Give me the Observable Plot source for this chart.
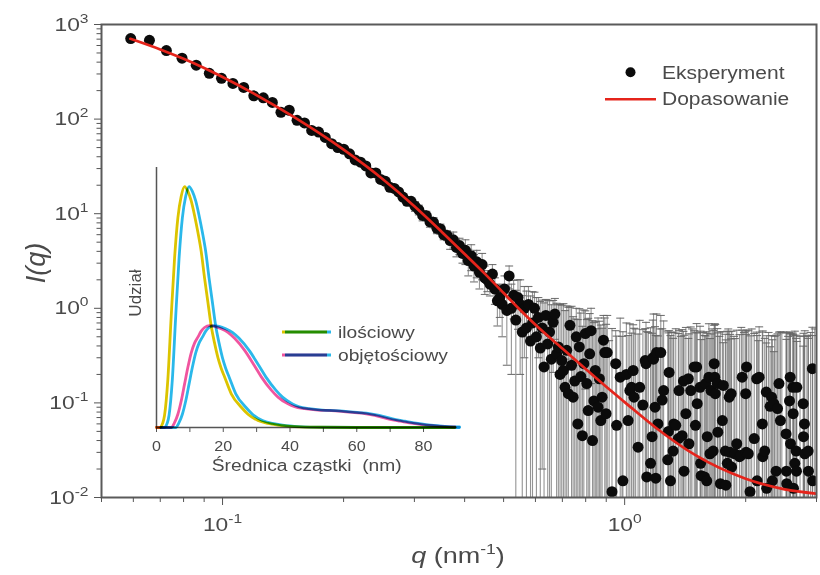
<!DOCTYPE html>
<html><head><meta charset="utf-8">
<script src="https://cdn.jsdelivr.net/npm/d3@7"></script>
<script src="https://cdn.jsdelivr.net/npm/@observablehq/plot@0.6"></script>
<style>
html,body{margin:0;padding:0;background:#fff;}
#wrap{position:relative;width:820px;height:575px;overflow:hidden;}
#wrap svg{position:absolute;left:0;top:0;}
</style></head><body><div id="wrap"></div>
<script>
// ---------------- DATA ----------------
// Main SAXS curve: q (nm^-1), I(q), error (absolute)
const qLow = [0.0591,0.0658,0.0725,0.0793,0.0860,0.0927,0.0994,0.1061,0.1129,0.1196,
0.1263,0.1330,0.1397,0.1465,0.1532,0.1599,0.1666,0.1733,0.1801,0.1868,
0.1935,0.2002,0.2069,0.2137,0.2204,0.2271,0.2338,0.2405,0.2473,0.2540,
0.2607,0.2674,0.2741,0.2809,0.2876,0.2943,0.3010,0.3077,0.3145,0.3212,
0.3279,0.3346,0.3413,0.3481,0.3548,0.3615,0.3682,0.3749,0.3817,0.3884,
0.3951,0.4018,0.4085,0.4153,0.4220,0.4287,0.4354,0.4421,0.4489];
const iLow = [710,680,530,440,372,305,270,238,216,176,
168,150,118,124,97,91,76,73,64,55,
50,48,43,37,35,32,27,27,23,22,
19,18.5,17,15,13.5,13.5,12,11,9.6,9.5,
8.2,8.1,7.0,6.9,6.0,5.9,5.2,5.3,4.4,4.6,
3.8,4.1,3.2,3.6,2.8,3.1,2.4,2.9,2.1];
const eLow = [28,27,21,18,15,12,11,10,9,7,
7,6,5,5,4,4,3,3,2.6,2.2,
2,3,2.6,2.2,2.1,1.9,1.6,1.6,1.4,1.3,
1.2,1.1,1.0,0.9,0.8,0.8,1.4,1.3,1.2,1.1,
1.0,1.0,0.85,0.85,0.7,0.7,1.0,1.1,0.9,0.9,
0.8,1.2,1.0,1.1,0.9,1.0,0.8,0.9,0.7];

const qMid = [0.4556,0.4623,0.4690,0.4757,0.4825,0.4892,0.4959,0.5026,0.5093,0.5161,
0.5228,0.5295,0.5362,0.5429,0.5497,0.5564,0.5631,0.5698,0.5765,0.5833,
0.5900,0.5967,0.6034,0.6101,0.6169,0.6236,0.6303,0.6370,0.6437,0.6505,
0.6572,0.6639,0.6706,0.6773,0.6841,0.6908,0.6975,0.7042,0.7109,0.7177,
0.7244,0.7311,0.7378,0.7445,0.7513,0.7580,0.7647,0.7714,0.7781,0.7849,
0.7916,0.7983,0.8050,0.8117,0.8185,0.8252,0.8319,0.8386,0.8453,0.8521,
0.8588,0.8655,0.8722,0.8789,0.8857,0.8924,0.8991];
const iMid = [2.0,1.8,2.3,1.6,1.2,1.3,1.1,1.6,0.95,2.2,
1.0,1.37,0.75,1.3,1.1,0.56,1.0,0.62,1.1,0.45,
0.7,1.0,0.5,0.8,0.38,0.62,0.24,0.84,0.42,0.56,
0.29,0.71,0.87,0.33,0.39,0.2,0.28,0.22,0.146,0.36,
0.125,0.66,0.25,0.115,0.17,0.5,0.06,0.39,0.19,0.045,
0.26,0.54,0.16,0.083,0.33,0.58,0.04,0.105,0.22,0.0075,
0.09,0.18,0.065,0.115,0.46,0.34,0.077];
const eMid = [0.5,0.45,0.6,0.5,0.55,0.5,0.6,0.6,0.7,0.6,
0.8,0.6,0.8,0.7,0.9,0.8,0.7,0.9,0.6,0.9,
0.8,0.48,0.8,0.5,0.8,0.6,0.9,0.4,0.8,0.64,
0.8,0.5,0.4,0.8,0.7,0.9,0.8,0.9,0.8,0.7,
0.9,0.37,0.8,0.7,0.6,0.5,0.7,0.6,0.7,0.6,
0.7,0.4,0.6,0.7,0.55,0.42,0.7,0.6,0.5,0.6,
0.7,0.55,0.6,0.5,0.38,0.45,0.6];

const qHigh = [0.905,0.915,0.93,0.95,0.955,0.975,0.985,0.99,1.01,1.02,
1.03,1.04,1.05,1.055,1.065,1.08,1.09,1.11,1.125,1.13,
1.135,1.145,1.16,1.17,1.175,1.18,1.19,1.195,1.2,1.21,
1.225,1.23,1.24,1.25,1.28,1.285,1.29,1.3,1.31,1.32,
1.325,1.34,1.36,1.365,1.38,1.39,1.4,1.405,1.42,1.44,
1.445,1.46,1.47,1.49,1.5,1.51,1.515,1.54,1.545,1.55,
1.565,1.58,1.59,1.6,1.605,1.62,1.63,1.64,1.65,1.66,
1.67,1.675,1.68,1.7,1.705,1.72,1.73,1.75,1.76,1.78,
1.785,1.8,1.81,1.82,1.83,1.84,1.845,1.87,1.88,1.9,
1.93,1.95,1.96,1.98,2.0,2.005,2.01,2.03,2.05,2.07,
2.1,2.13,2.135,2.15,2.16,2.2,2.205,2.23,2.25,2.255,
2.28,2.3,2.32,2.33,2.35,2.36,2.38,2.4,2.42,2.44,
2.46,2.52,2.525,2.53,2.55,2.57,2.58,2.585,2.62,2.625,
2.63,2.65,2.67,2.675,2.68,2.73,2.78,2.785,2.8,2.805,
2.84,2.86,2.865,2.9,2.93,2.935,2.97];
const iHigh = [0.34,0.005,0.0115,0.26,0.058,0.187,0.005,0.015,0.2,0.065,
0.135,0.146,0.22,0.115,0.005,0.034,0.146,0.095,0.28,0.26,
0.0165,0.005,0.023,0.044,0.30,0.29,0.09,0.016,0.34,0.06,
0.005,0.34,0.107,0.135,0.025,0.05,0.21,0.015,0.005,0.031,
0.06,0.058,0.042,0.135,0.005,0.045,0.17,0.019,0.077,0.18,
0.037,0.135,0.005,0.24,0.058,0.24,0.098,0.146,0.023,0.017,
0.005,0.0165,0.16,0.015,0.044,0.187,0.029,0.135,0.005,0.031,
0.26,0.187,0.125,0.16,0.049,0.005,0.014,0.065,0.153,0.031,
0.0135,0.023,0.005,0.115,0.03,0.125,0.021,0.005,0.029,0.037,
0.027,0.028,0.187,0.005,0.125,0.03,0.24,0.029,0.0115,0.005,
0.042,0.18,0.015,0.005,0.187,0.06,0.027,0.031,0.13,0.0125,
0.005,0.092,0.115,0.015,0.098,0.005,0.019,0.087,0.16,0.065,
0.005,0.047,0.019,0.014,0.005,0.105,0.187,0.037,0.146,0.077,
0.0125,0.023,0.031,0.019,0.146,0.005,0.098,0.044,0.06,0.029,
0.005,0.031,0.019,0.005,0.23,0.015,0.005];
const eHigh = [0.5,0.45,0.6,0.32,0.45,0.6,0.5,0.55,0.5,0.45,
0.55,0.4,0.45,0.5,0.6,0.5,0.6,0.5,0.33,0.45,
0.55,0.55,0.6,0.5,0.45,0.58,0.55,0.5,0.53,0.45,
0.6,0.5,0.5,0.6,0.55,0.5,0.37,0.5,0.55,0.45,
0.5,0.55,0.5,0.45,0.5,0.55,0.4,0.5,0.55,0.3,
0.5,0.5,0.6,0.34,0.5,0.45,0.45,0.5,0.55,0.45,
0.55,0.5,0.35,0.55,0.5,0.5,0.45,0.4,0.6,0.55,
0.4,0.5,0.55,0.45,0.5,0.5,0.55,0.5,0.28,0.5,
0.45,0.55,0.6,0.45,0.5,0.35,0.55,0.5,0.45,0.55,
0.5,0.6,0.4,0.55,0.45,0.5,0.35,0.55,0.5,0.6,
0.5,0.38,0.5,0.45,0.45,0.5,0.55,0.45,0.3,0.5,
0.55,0.3,0.4,0.45,0.25,0.5,0.5,0.45,0.4,0.5,
0.55,0.5,0.45,0.55,0.5,0.45,0.35,0.5,0.4,0.45,
0.5,0.55,0.45,0.5,0.3,0.5,0.3,0.5,0.45,0.55,
0.5,0.45,0.5,0.55,0.4,0.5,0.6];

// Fitted curve (Dopasowanie)
const qFit = [0.059,0.07,0.08,0.09,0.1,0.12,0.15,0.2,0.25,0.3,0.35,0.4,0.45,0.5,0.55,0.6,0.7,0.8,0.9,1.0,1.2,1.5,2.0,2.5,3.0];
const iFit = [706,545,434,347,279,185,106,47.5,23.3,12.0,6.5,3.75,2.3,1.45,0.96,0.67,0.375,0.228,0.148,0.102,0.054,0.028,0.0158,0.0122,0.011];

// Inset: size distributions
const dNum = [0.6,1.5,2.5,3,4,5,6,7,8,9,10,11,12,13,14,15,16,17,18,19,20,21,23,26,28,31,34,37,42,50,60,90];
const vNum = [0,0,0.02,0.05,0.2,0.46,0.7,0.87,0.96,1.0,0.98,0.94,0.88,0.81,0.73,0.62,0.52,0.42,0.35,0.29,0.245,0.21,0.14,0.084,0.055,0.029,0.017,0.01,0.004,0.001,0,0];
const dVol = [0.6,5,6,7,8,9,10,11,12,13,14,15,16.5,18,20,22,24,27,30,32,35,37,40,42,45,49,53,56,60,63,66,70,73,77,80,84,87,90];
const vVol = [0,0,0.02,0.055,0.11,0.18,0.25,0.31,0.35,0.375,0.4,0.415,0.423,0.42,0.41,0.395,0.37,0.32,0.255,0.21,0.155,0.126,0.098,0.086,0.078,0.072,0.07,0.067,0.062,0.058,0.05,0.036,0.028,0.018,0.012,0.007,0.004,0.002];

// Ticks
const yMajor = [0.01,0.1,1,10,100,1000];
const yMinor = [0.02,0.03,0.04,0.05,0.06,0.07,0.08,0.09,0.2,0.3,0.4,0.5,0.6,0.7,0.8,0.9,
  2,3,4,5,6,7,8,9,20,30,40,50,60,70,80,90,200,300,400,500,600,700,800,900];
const xMajor = [0.1,1];
const xMinor = [0.05,0.06,0.07,0.08,0.09,0.2,0.3,0.4,0.5,0.6,0.7,0.8,0.9,2,3];
const insetMajor = [0,20,40,60,80];
const insetMinor = [10,30,50,70];

// Texts
const seriesNames = ["Eksperyment","Dopasowanie"];
const insetNames = ["ilościowy","objętościowy"];
const insetXTitle = "Średnica cząstki  (nm)";
const insetYTitle = "Udział";

// ---------------- BUILD ----------------
const FONT = "'Liberation Sans', Arial, Helvetica, sans-serif";
const TEXT = "#4a4a4a";
const NS = "http://www.w3.org/2000/svg";
const YEL = "#dcc400", CYAN = "#2ab8ea", PINK = "#f0559f";

const rows = [];
function addRows(qs, is, es){ qs.forEach((q,i)=>rows.push({q, I: is[i], e: es[i], hi: is[i]+es[i], lo: is[i]-es[i]})); }
addRows(qLow,iLow,eLow); addRows(qMid,iMid,eMid); addRows(qHigh,iHigh,eHigh);
const fitRows = qFit.map((q,i)=>({q, I: iFit[i]}));
const numRows = dNum.map((d,i)=>({d, v: vNum[i]}));
const volRows = dVol.map((d,i)=>({d, v: vVol[i]}));

const cap = {draw(ctx){ ctx.moveTo(-4,0); ctx.lineTo(4,0); }};
const pow = v => "10^" + Math.round(Math.log10(v));
const BAR = "#666";

const main = Plot.plot({
  width: 820, height: 575,
  marginLeft: 101, marginRight: 4, marginTop: 24, marginBottom: 78,
  style: {fontFamily: FONT, fontSize: "19px", color: TEXT, background: "white"},
  x: {type: "log", domain: [0.05, 3], axis: null},
  y: {type: "log", domain: [0.01, 1000], axis: null},
  marks: [
    Plot.ruleX(rows, {x: "q", y1: d => Math.max(d.lo, 0.004), y2: "hi", stroke: BAR, strokeOpacity: 0.7, strokeWidth: 1.1, clip: true}),
    Plot.dot(rows, {x: "q", y: "hi", symbol: cap, r: 4, fill: "none", stroke: BAR, strokeOpacity: 0.9, strokeWidth: 1.1, clip: true}),
    Plot.dot(rows.filter(d => d.lo > 0.0105), {x: "q", y: "lo", symbol: cap, r: 4, fill: "none", stroke: BAR, strokeOpacity: 0.9, strokeWidth: 1.1, clip: true}),
    Plot.dot(rows, {x: "q", y: "I", r: 5.5, fill: "#0b0b0b", stroke: "none", clip: true}),
    Plot.line(fitRows, {x: "q", y: "I", stroke: "#e5241b", strokeWidth: 2.7, curve: "monotone-x", clip: true}),
    Plot.frame({stroke: "#5a5a5a", strokeWidth: 2}),
    Plot.axisY(yMajor, {tickSize: 7, tickPadding: 6, tickFormat: pow, label: null, stroke: "#555"}),
    Plot.axisY(yMinor, {tickSize: 4.5, tickFormat: () => "", label: null, stroke: "#555"}),
    Plot.axisX(xMajor, {tickSize: 8, tickPadding: 12, tickFormat: pow, label: null, stroke: "#555"}),
    Plot.axisX(xMinor, {tickSize: 5, tickFormat: () => "", label: null, stroke: "#555"})
  ]
});

const inset = Plot.plot({
  width: 820, height: 575,
  marginLeft: 156, marginRight: 363.6, marginTop: 167, marginBottom: 148,
  style: {fontFamily: FONT, fontSize: "14px", color: TEXT, background: "transparent", pointerEvents: "none"},
  x: {domain: [0, 90], axis: null},
  y: {domain: [0, 1.079], axis: null},
  marks: [
    Plot.ruleX([0], {stroke: "#555", strokeWidth: 1.5}),
    Plot.ruleY([0], {stroke: "#555", strokeWidth: 1.5}),
    Plot.axisX(insetMajor, {tickSize: 5, tickPadding: 9, label: null, stroke: "#555"}),
    Plot.axisX(insetMinor, {tickSize: 5, tickFormat: () => "", label: null, stroke: "#555"}),
    Plot.line(numRows, {x: "d", y: "v", stroke: YEL, strokeWidth: 2.8, dx: -2, curve: "monotone-x", mixBlendMode: "multiply"}),
    Plot.line(numRows, {x: "d", y: "v", stroke: CYAN, strokeWidth: 2.8, dx: 2.5, curve: "monotone-x", mixBlendMode: "multiply"}),
    Plot.line(volRows, {x: "d", y: "v", stroke: PINK, strokeWidth: 2.8, dx: -2, curve: "monotone-x", mixBlendMode: "multiply"}),
    Plot.line(volRows, {x: "d", y: "v", stroke: CYAN, strokeWidth: 2.8, dx: 2.5, curve: "monotone-x", mixBlendMode: "multiply"})
  ]
});

const wrap = document.getElementById("wrap");
wrap.append(main, inset);

// superscripts in tick labels
function supify(svg, supSize, rise){
  svg.querySelectorAll("text").forEach(t => {
    const s = t.textContent;
    if (!s.includes("^")) return;
    const [base, ex] = s.split("^");
    while (t.firstChild) t.removeChild(t.firstChild);
    const a = document.createElementNS(NS, "tspan"); a.textContent = base; t.appendChild(a);
    const b = document.createElementNS(NS, "tspan");
    b.setAttribute("font-size", supSize); b.setAttribute("dy", -rise); b.textContent = ex; t.appendChild(b);
  });
}
supify(main, 13, 8);

function stretch(t, f){
  const w = t.getComputedTextLength();
  if (w > 0) { t.setAttribute("textLength", w * f); t.setAttribute("lengthAdjust", "spacingAndGlyphs"); }
}
main.querySelectorAll("text").forEach(t => stretch(t, 1.2));
inset.querySelectorAll("text").forEach(t => stretch(t, 1.15));

// rich text helper
function addText(svg, {x, y, anchor = "start", size, rotate = 0, parts, fill = TEXT, f = 1.2}){
  const t = document.createElementNS(NS, "text");
  t.setAttribute("transform", `translate(${x},${y})` + (rotate ? ` rotate(${rotate})` : ""));
  t.setAttribute("text-anchor", anchor);
  t.setAttribute("font-family", FONT);
  t.setAttribute("font-size", size);
  t.setAttribute("fill", fill);
  let shift = 0;
  parts.forEach(p => {
    const s = document.createElementNS(NS, "tspan");
    s.textContent = p.text;
    if (p.italic) s.setAttribute("font-style", "italic");
    if (p.sup) { s.setAttribute("font-size", size * 0.65); s.setAttribute("dy", -size * 0.42); shift = size * 0.42; }
    else if (shift) { s.setAttribute("dy", shift); shift = 0; }
    t.appendChild(s);
  });
  svg.appendChild(t);
  if (f !== 1) stretch(t, f);
  return t;
}

// axis titles (main)
addText(main, {x: 45, y: 263, anchor: "middle", size: 27, rotate: -90, f: 1,
  parts: [{text: "I", italic: true}, {text: "(", italic: true}, {text: "q", italic: true}, {text: ")", italic: true}]});
addText(main, {x: 458, y: 563, anchor: "middle", size: 22.5,
  parts: [{text: "q", italic: true}, {text: " (nm"}, {text: "-1", sup: true}, {text: ")"}]});

// main legend
const g = d3.select(main);
g.append("circle").attr("cx", 630.5).attr("cy", 72.3).attr("r", 5).attr("fill", "#0b0b0b");
g.append("line").attr("x1", 605).attr("x2", 656).attr("y1", 99.3).attr("y2", 99.3).attr("stroke", "#e5241b").attr("stroke-width", 2.4);
addText(main, {x: 662, y: 78.5, size: 17.5, parts: [{text: seriesNames[0]}]});
addText(main, {x: 662, y: 105.3, size: 17.5, parts: [{text: seriesNames[1]}]});

// inset titles and legend
addText(inset, {x: 306.7, y: 471, anchor: "middle", size: 16, parts: [{text: insetXTitle}]});
addText(inset, {x: 141, y: 293, anchor: "middle", size: 17, rotate: -90, f: 1, parts: [{text: insetYTitle}]});
const gi = d3.select(inset);
[[YEL, CYAN, 332], [PINK, CYAN, 355]].forEach(([c1, c2, y]) => {
  gi.append("line").attr("x1", 282).attr("x2", 327).attr("y1", y).attr("y2", y).attr("stroke", c1).attr("stroke-width", 2.8).style("mix-blend-mode", "multiply");
  gi.append("line").attr("x1", 285).attr("x2", 331).attr("y1", y).attr("y2", y).attr("stroke", c2).attr("stroke-width", 2.8).style("mix-blend-mode", "multiply");
});
addText(inset, {x: 338, y: 337.5, size: 16, parts: [{text: insetNames[0]}]});
addText(inset, {x: 338, y: 360.5, size: 16, parts: [{text: insetNames[1]}]});
</script></body></html>
